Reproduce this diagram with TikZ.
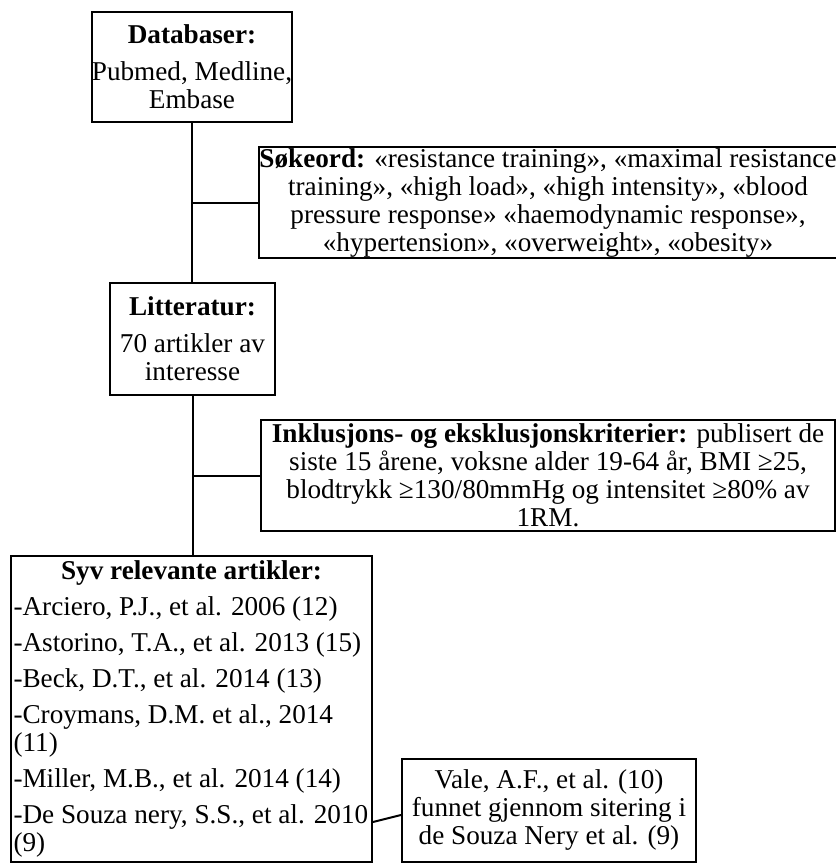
\documentclass[tikz,border=0pt]{standalone}
\usepackage{fontspec}
\setmainfont{Liberation Serif}
\begin{document}
\begin{tikzpicture}[x=0.5pt,y=-0.5pt,
  every node/.style={font=\fontsize{13.6}{14}\selectfont},
  box/.style={draw, line width=1pt, inner sep=0pt, align=center},
  conn/.style={line width=1pt}]
\useasboundingbox (0,0) rectangle (836,864);
\node[box, minimum width=82pt, minimum height=55pt] (db) at (192,67)
  {\textbf{Databaser:}\\[4.5pt] Pubmed, Medline,\\ Embase};
\node[box, minimum width=287pt, minimum height=55.5pt] (sok) at (548,202.5)
  {\textbf{Søkeord:} «resistance training», «maximal resistance\\
   training», «high load», «high intensity», «blood\\
   pressure response» «haemodynamic response»,\\
   «hypertension», «overweight», «obesity»};
\node[box, minimum width=82.5pt, minimum height=56pt] (lit) at (192.5,339)
  {\textbf{Litteratur:}\\[4.5pt] 70 artikler av\\ interesse};
\node[box, minimum width=287pt, minimum height=55.5pt] (ink) at (548,475.5)
  {\textbf{Inklusjons- og eksklusjonskriterier:} publisert de\\
   siste 15 årene, voksne alder 19-64 år, BMI ≥25,\\
   blodtrykk ≥130/80mmHg og intensitet ≥80\% av\\
   1RM.};
\node[box, minimum width=180.5pt, minimum height=153pt, inner xsep=1pt] (syv) at (191.5,709)
  {\begin{minipage}{178pt}\setlength{\parskip}{0pt}\setlength{\parindent}{0pt}%
   \centering\textbf{Syv relevante artikler:}\par\vspace{4pt}
   \raggedright
   -Arciero, P.J., et al. 2006 (12)\\[4pt]
   -Astorino, T.A., et al. 2013 (15)\\[4pt]
   -Beck, D.T., et al. 2014 (13)\\[4pt]
   -Croymans, D.M. et al., 2014\\(11)\\[4pt]
   -Miller, M.B., et al. 2014 (14)\\[4pt]
   -De Souza nery, S.S., et al. 2010\\(9)\par
   \end{minipage}};
\node[box, minimum width=147pt, minimum height=51.5pt] (vale) at (549,810.5)
  {\raisebox{-4pt}{\begin{tabular}{@{}c@{}}Vale, A.F., et al. (10)\\ funnet gjennom sitering i\\ de Souza Nery et al. (9)\end{tabular}}};
\draw[conn] (db.south) -- (db.south |- lit.north);
\draw[conn] (db.south |- sok.west) -- (sok.west);
\draw[conn] (lit.south) -- (lit.south |- syv.north);
\draw[conn] (lit.south |- ink.west) -- (ink.west);
\draw[conn] (syv.east |- 0,822) -- (vale.west |- 0,815);
\end{tikzpicture}
\end{document}
